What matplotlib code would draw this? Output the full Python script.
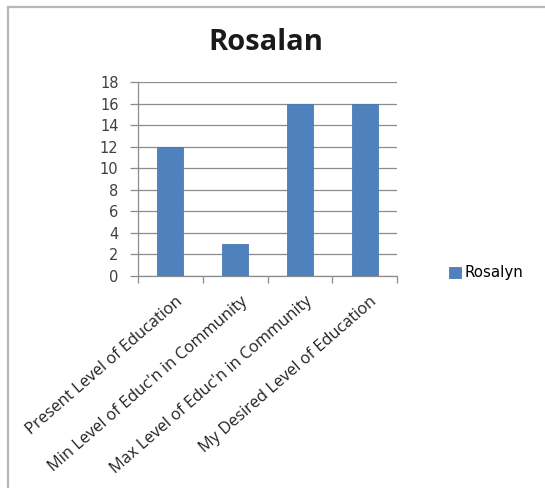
import matplotlib
matplotlib.use("Agg")
import matplotlib.pyplot as plt
from matplotlib.lines import Line2D

categories = [
    "Present Level of Education",
    "Min Level of Educ'n in Community",
    "Max Level of Educ'n in Community",
    "My Desired Level of Education",
]
values = [12, 3, 16, 16]
series_name = "Rosalyn"
title = "Rosalan"
yticks = [0, 2, 4, 6, 8, 10, 12, 14, 16, 18]

W, H = 545, 488
fig = plt.figure(figsize=(W / 100, H / 100), dpi=100)
fig.patch.set_facecolor("white")

# outer chart-area frame (top and left edges)
fig.add_artist(Line2D([8 / W, 8 / W], [0, 1 - 7 / H], color="#b8b8b8", lw=1.6))
fig.add_artist(Line2D([8 / W, 1], [1 - 7 / H, 1 - 7 / H], color="#b8b8b8", lw=1.6))

x0, x1, y0, y1 = 138, 397, 82, 276
ax = fig.add_axes([x0 / W, 1 - y1 / H, (x1 - x0) / W, (y1 - y0) / H])

pos = list(range(len(categories)))
bars = ax.bar(pos, values, width=0.4, color="#4f81bd", edgecolor="#4a7ab5",
              linewidth=0.6, zorder=3, label=series_name)

ax.set_xlim(-0.5, len(categories) - 0.5)
ax.set_ylim(0, 18)
ax.set_yticks(yticks)
ax.set_yticklabels([str(t) for t in yticks], fontsize=10.5, color="#404040",
                   family="DejaVu Sans")
ax.yaxis.grid(True, color="#8c8c8c", linewidth=0.9, zorder=0)

ax.set_xticks([p + 0.5 for p in pos[:-1]] + [-0.5, len(categories) - 0.5])
ax.set_xticklabels([])
ax.tick_params(axis="x", length=5, color="#8c8c8c", width=0.9, direction="out")
ax.tick_params(axis="y", length=6, color="#8c8c8c", width=0.9, direction="out", pad=8)

for p, lab in zip(pos, categories):
    ax.text(p + 0.08, -1.6, lab, rotation=41, ha="right", va="top",
            rotation_mode="anchor", fontsize=11.8, color="#222222",
            family="Open Sans", transform=ax.transData)

for side in ["top", "right"]:
    ax.spines[side].set_visible(False)
ax.spines["left"].set_color("#8c8c8c")
ax.spines["bottom"].set_color("#8c8c8c")
ax.spines["left"].set_linewidth(0.9)
ax.spines["bottom"].set_linewidth(0.9)

fig.text(266 / W, 1 - 42 / H, title, ha="center", va="center",
         fontsize=21, fontweight="bold", color="#1a1a1a", family="Open Sans")

leg = fig.legend(handles=[bars], labels=[series_name], loc="center left",
                 bbox_to_anchor=(435 / W, 1 - 273 / H), frameon=False,
                 handlelength=0.8, handleheight=0.8, handletextpad=0.3,
                 prop={"family": "DejaVu Sans", "size": 10.8})

fig.savefig("out.png", dpi=100)
